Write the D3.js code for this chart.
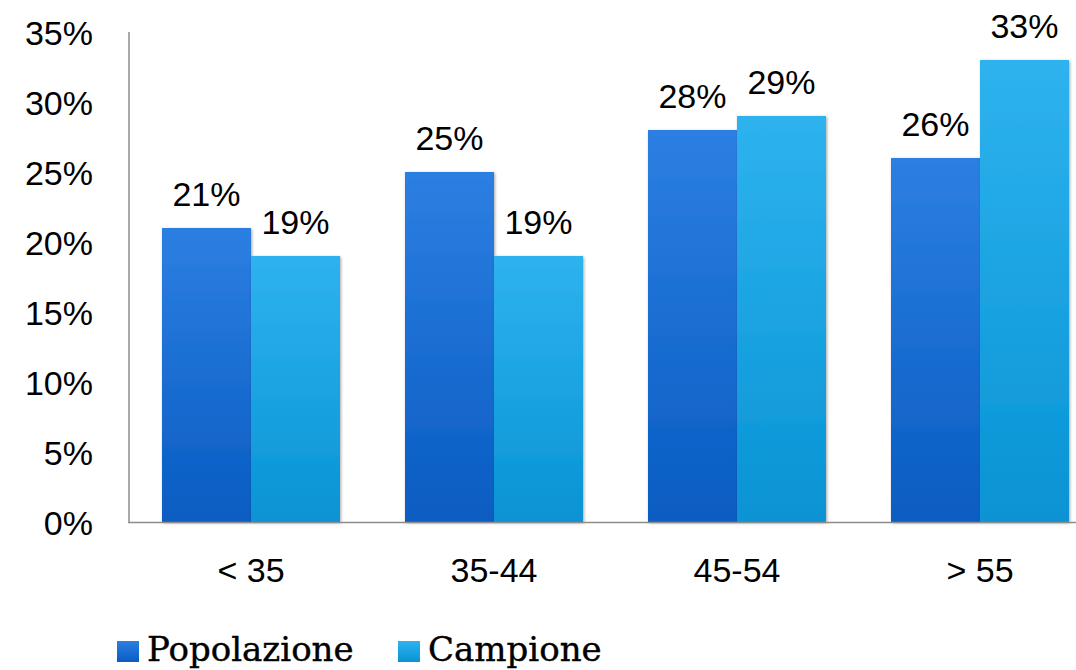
<!DOCTYPE html>
<html>
<head>
<meta charset="utf-8">
<script src="https://cdn.jsdelivr.net/npm/d3@7"></script>
<style>
  html, body { margin: 0; padding: 0; background: #fff; }
  svg { display: block; }
</style>
</head>
<body>
<svg id="chart" width="1076" height="670"></svg>
<script>
const categories = ["< 35", "35-44", "45-54", "> 55"];
const seriesNames = ["Popolazione", "Campione"];
const popolazione = [21, 25, 28, 26];
const campione = [19, 19, 29, 33];
const yTicks = [0, 5, 10, 15, 20, 25, 30, 35];

const seriesValues = [popolazione, campione];
const colors = [
  { top: "#2d7fe2", bottom: "#085cc2" },
  { top: "#2eb3ef", bottom: "#0893d4" }
];

const svg = d3.select("#chart");
const W = 1076, H = 670;

const x = d3.scaleBand().domain(categories).range([129.5, 1101.5])
  .paddingInner(0.2675).paddingOuter(0.2675 / 2);
const xs = d3.scaleBand().domain(seriesNames).range([0, x.bandwidth()]);
const y = d3.scaleLinear().domain([0, 35]).range([522, 32]);

const defs = svg.append("defs");
colors.forEach((c, i) => {
  const g = defs.append("linearGradient").attr("id", "grad" + i)
    .attr("x1", 0).attr("y1", 0).attr("x2", 0).attr("y2", 1);
  g.append("stop").attr("offset", "0%").attr("stop-color", c.top);
  g.append("stop").attr("offset", "100%").attr("stop-color", c.bottom);
});
const f = defs.append("filter").attr("id", "shadow")
  .attr("x", "-10%").attr("y", "-10%").attr("width", "130%").attr("height", "130%");
f.append("feDropShadow").attr("dx", 1).attr("dy", 1).attr("stdDeviation", 1.5)
  .attr("flood-color", "#000").attr("flood-opacity", 0.35);

// axes lines
const axisColor = "#8c8c8c";
svg.append("line").attr("x1", 129).attr("x2", 129).attr("y1", y(35)).attr("y2", y(0))
  .attr("stroke", axisColor).attr("stroke-width", 1.5);

// y tick labels
const yAxis = d3.axisLeft(y).tickValues(yTicks).tickFormat(d => d + "%").tickSize(0).tickPadding(36);
const yg = svg.append("g").attr("transform", "translate(129,0)").call(yAxis);
yg.select(".domain").remove();
yg.selectAll("text")
  .attr("font-family", "Liberation Sans, Arial, sans-serif")
  .attr("font-size", 34).attr("fill", "#000").attr("dy", "0.36em");

// bars
const groups = svg.append("g").selectAll("g").data(categories).join("g")
  .attr("transform", d => `translate(${x(d)},0)`);

groups.each(function(cat, ci) {
  const g = d3.select(this);
  seriesNames.forEach((s, si) => {
    const v = seriesValues[si][ci];
    g.append("rect")
      .attr("x", xs(s)).attr("y", y(v))
      .attr("width", xs.bandwidth()).attr("height", y(0) - y(v))
      .attr("fill", `url(#grad${si})`)
      .attr("filter", "url(#shadow)");
  });
});
groups.each(function(cat, ci) {
  const g = d3.select(this);
  seriesNames.forEach((s, si) => {
    const v = seriesValues[si][ci];
    g.append("text")
      .attr("x", xs(s) + xs.bandwidth() / 2).attr("y", y(v) - 22)
      .attr("text-anchor", "middle")
      .attr("font-family", "Liberation Sans, Arial, sans-serif")
      .attr("font-size", 34).attr("fill", "#000")
      .text(v + "%");
  });
});

// x axis line
svg.append("line").attr("x1", 128).attr("x2", W).attr("y1", y(0) + 0.5).attr("y2", y(0) + 0.5)
  .attr("stroke", axisColor).attr("stroke-width", 1.5);

// x labels
const xAxis = d3.axisBottom(x).tickSize(0).tickPadding(0);
const xg = svg.append("g").attr("transform", `translate(0,${y(0)})`).call(xAxis);
xg.select(".domain").remove();
xg.selectAll("text")
  .attr("font-family", "Liberation Sans, Arial, sans-serif")
  .attr("font-size", 34).attr("fill", "#000")
  .attr("dy", 0).attr("y", 60);

// legend
const legendX = [117, 398];
const lg = svg.append("g");
seriesNames.forEach((s, i) => {
  lg.append("rect").attr("x", legendX[i]).attr("y", 641).attr("width", 22).attr("height", 21)
    .attr("fill", `url(#grad${i})`);
  lg.append("text").attr("x", legendX[i] + 30).attr("y", 661)
    .attr("font-family", "DejaVu Serif, serif").attr("font-size", 34).attr("fill", "#000")
    .attr("stroke", "#000").attr("stroke-width", 0.4)
    .text(s);
});
</script>
</body>
</html>
